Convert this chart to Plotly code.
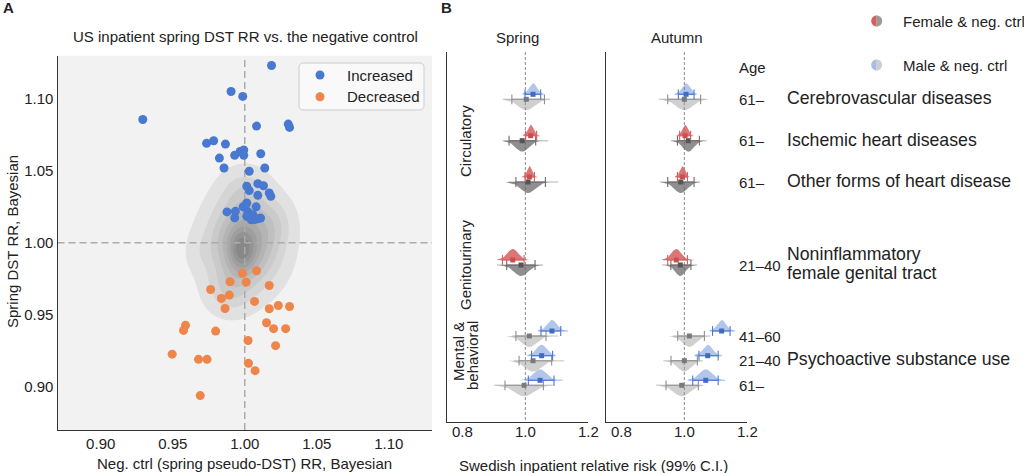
import numpy as np
import plotly.graph_objects as go

W, H = 1024, 473
FONT = "Liberation Sans, Arial, Helvetica, sans-serif"
TXT = "#222222"


def px(x):
    return x / W


def py(y):
    return 1 - y / H


# ---------------- Panel A data ----------------
inc_x = [1.0186, 0.9905, 0.9986, 0.9292, 1.0302, 1.0311, 1.0082, 0.9735, 0.9784, 0.9866,
         0.9968, 0.9993, 0.9930, 0.9993, 1.0111, 0.9824, 0.9856, 1.0031, 1.0139, 1.0014,
         1.0031, 1.0091, 1.0130, 1.0091, 1.0170, 1.0181, 1.0014, 0.9989, 1.0079, 0.9877,
         0.9935, 1.0021, 0.9930, 1.0014, 1.0056, 1.0093, 1.0070, 1.0035, 1.0045, 1.0110]
inc_y = [1.1232, 1.1051, 1.1017, 1.0857, 1.0825, 1.0802, 1.0811, 1.0691, 1.0709, 1.0686,
         1.0635, 1.0645, 1.0608, 1.0608, 1.0619, 1.0589, 1.0520, 1.0497, 1.0520, 1.0393,
         1.0363, 1.0411, 1.0397, 1.0330, 1.0347, 1.0323, 1.0277, 1.0250, 1.0250, 1.0215,
         1.0219, 1.0217, 1.0173, 1.0184, 1.0196, 1.0168, 1.0162, 1.0180, 1.0160, 1.0172]
dec_x = [0.9984, 1.0082, 0.9898, 1.0010, 1.0170, 0.9763, 0.9838, 0.9893, 1.0068, 0.9863,
         1.0170, 1.0233, 1.0311, 0.9589, 0.9575, 0.9798, 1.0151, 1.0200, 1.0284, 1.0023,
         1.0214, 0.9496, 0.9679, 0.9738, 1.0026, 1.0072, 0.9691]
dec_y = [0.9789, 0.9806, 0.9730, 0.9727, 0.9704, 0.9676, 0.9614, 0.9637, 0.9593, 0.9544,
         0.9542, 0.9565, 0.9558, 0.9427, 0.9392, 0.9387, 0.9445, 0.9404, 0.9404, 0.9322,
         0.9286, 0.9227, 0.9191, 0.9191, 0.9163, 0.9112, 0.8939]

# density of the negative-control cloud, approximated by a few Gaussian components
KDE_CX = [1.000, 0.989, 1.000, 1.021, 0.998, 0.968]
KDE_CY = [1.000, 0.966, 1.036, 1.015, 0.994, 0.993]
KDE_SX = [0.0160, 0.0110, 0.0110, 0.0090, 0.0060, 0.0070]
KDE_SY = [0.0200, 0.0110, 0.0110, 0.0110, 0.0100, 0.0100]
KDE_W = [1.00, 0.25, 0.22, 0.15, 0.45, 0.08]

A_TICKS = [0.90, 0.95, 1.00, 1.05, 1.10]

# ---------------- Panel B data ----------------
ROW_AGE = ["61–", "61–", "61–", "21–40", "41–60", "21–40", "61–"]
ROW_SEX = ["Male", "Female", "Female", "Female", "Male", "Male", "Male"]

spring_est = [1.0246, 1.017, 1.013, 0.960, 1.085, 1.052, 1.047]
spring_lo = [0.999, 1.001, 0.999, 0.927, 1.050, 1.020, 1.0096]
spring_hi = [1.049, 1.036, 1.029, 0.996, 1.113, 1.087, 1.0916]
spring_lo2 = [0.9936, 0.9936, 0.988, 0.919, 1.041, 1.010, 0.999]
spring_hi2 = [1.0575, 1.047, 1.038, 1.0045, 1.137, 1.095, 1.119]

spring_ctrl_est = [1.003, 0.990, 1.0086, 0.9863, 1.0128, 1.0246, 0.996]
spring_ctrl_lo = [0.957, 0.948, 0.970, 0.9406, 0.970, 0.980, 0.935]
spring_ctrl_hi = [1.061, 1.033, 1.064, 1.031, 1.066, 1.084, 1.0575]
spring_ctrl_lo2 = [0.930, 0.930, 0.946, 0.909, 0.957, 0.964, 0.900]
spring_ctrl_hi2 = [1.079, 1.073, 1.105, 1.057, 1.105, 1.124, 1.095]

autumn_est = [1.0055, 1.0023, 0.9936, 0.9745, 1.119, 1.0746, 1.0683]
autumn_lo = [0.9808, 0.985, 0.978, 0.947, 1.090, 1.0467, 1.0268]
autumn_hi = [1.031, 1.020, 1.010, 1.010, 1.146, 1.108, 1.108]
autumn_lo2 = [0.970, 0.9755, 0.970, 0.933, 1.082, 1.034, 1.0128]
autumn_hi2 = [1.039, 1.029, 1.0135, 1.029, 1.162, 1.119, 1.130]

autumn_ctrl_est = [1.000, 1.0127, 0.9885, 0.987, 1.016, 1.000, 0.9917]
autumn_ctrl_lo = [0.947, 0.978, 0.947, 0.957, 0.979, 0.9575, 0.9416]
autumn_ctrl_hi = [1.052, 1.048, 1.031, 1.021, 1.064, 1.0415, 1.0447]
autumn_ctrl_lo2 = [0.918, 0.957, 0.922, 0.928, 0.963, 0.933, 0.9097]
autumn_ctrl_hi2 = [1.071, 1.071, 1.050, 1.041, 1.083, 1.0575, 1.0575]

B_TICKS = [0.8, 1.0, 1.2]

# ---------------- layout constants (pixel rows of panel B) ----------------
ROW_Y = [99.3, 140.7, 182.0, 265.0, 336.0, 360.7, 385.3]
PAIR_OFFSET = 5.0
RIDGE_H = 11.0

STYLE = {
    "Male": dict(fill="rgba(72,120,208,0.42)", line="#4878d0", light="rgba(72,120,208,0.35)",
                 point="#3f6cc0"),
    "Female": dict(fill="rgba(214,95,95,0.85)", line="#d65f5f", light="rgba(214,95,95,0.35)",
                   point="#c95050"),
    "CtrlMale": dict(fill="rgba(150,150,150,0.45)", line="#8f8f8f", light="rgba(140,140,140,0.35)",
                     point="#7a7a7a"),
    "CtrlFemale": dict(fill="rgba(100,100,100,0.72)", line="#6a6a6a", light="rgba(110,110,110,0.35)",
                       point="#555555"),
}

fig = go.Figure()

# ---------------- Panel A ----------------
gx = np.linspace(0.87, 1.13, 261)
gy = np.linspace(0.87, 1.13, 261)
XX, YY = np.meshgrid(gx, gy)
Z = np.zeros_like(XX)
for cx, cy, sx, sy, w in zip(KDE_CX, KDE_CY, KDE_SX, KDE_SY, KDE_W):
    Z += w * np.exp(-0.5 * (((XX - cx) / sx) ** 2 + ((YY - cy) / sy) ** 2))
peak = Z.max()
step = 0.10556 * peak
nlev = 9
band_grey = np.linspace(225, 136, nlev)
cscale = [[0.0, "rgb(242,242,242)"]]
for k in range(1, nlev + 1):
    g = int(band_grey[k - 1])
    cscale.append([k / nlev, f"rgb({g},{g},{g})"])

fig.add_trace(go.Contour(
    x=gx, y=gy, z=Z, xaxis="x", yaxis="y",
    contours=dict(start=0.05 * peak, end=0.05 * peak + (nlev - 1) * step, size=step,
                  coloring="fill", showlines=False),
    colorscale=cscale, showscale=False, line=dict(width=0, smoothing=1.3), hoverinfo="skip",
    showlegend=False,
))

fig.add_trace(go.Scatter(x=[1, 1], y=[0.87, 1.13], mode="lines", xaxis="x", yaxis="y",
                         line=dict(color="#ababab", width=1.5, dash="7px,4px"),
                         showlegend=False, hoverinfo="skip"))
fig.add_trace(go.Scatter(x=[0.87, 1.13], y=[1, 1], mode="lines", xaxis="x", yaxis="y",
                         line=dict(color="#ababab", width=1.5, dash="7px,4px"),
                         showlegend=False, hoverinfo="skip"))

INC_COLOR = "#4878d0"
DEC_COLOR = "#ee854a"
fig.add_trace(go.Scatter(x=inc_x, y=inc_y, mode="markers", name="Increased", xaxis="x", yaxis="y",
                         marker=dict(color=INC_COLOR, size=9, line=dict(width=0)),
                         showlegend=False))
fig.add_trace(go.Scatter(x=dec_x, y=dec_y, mode="markers", name="Decreased", xaxis="x", yaxis="y",
                         marker=dict(color=DEC_COLOR, size=9, line=dict(width=0)),
                         showlegend=False))


# ---------------- Panel B ----------------
def add_element(xa, ya, est, lo, hi, lo2, hi2, base, up, st):
    sd = (hi - lo) / (2 * 1.96)
    xs = np.linspace(est - 3.0 * sd, est + 3.0 * sd, 70)
    sign = 1 if up else -1
    ys = base - sign * RIDGE_H * np.exp(-0.5 * ((xs - est) / sd) ** 2)
    rx = np.concatenate([[xs[0]], xs, [xs[-1]]])
    ry = np.concatenate([[base], ys, [base]])
    fig.add_trace(go.Scatter(x=rx, y=ry, mode="lines", fill="toself", fillcolor=st["fill"],
                             line=dict(width=0), xaxis=xa, yaxis=ya, showlegend=False,
                             hoverinfo="skip"))
    fig.add_trace(go.Scatter(x=[lo2, hi2], y=[base, base], mode="lines",
                             line=dict(color=st["light"], width=1.6), xaxis=xa, yaxis=ya,
                             showlegend=False, hoverinfo="skip"))
    fig.add_trace(go.Scatter(x=[lo, hi], y=[base, base], mode="lines+markers",
                             line=dict(color=st["line"], width=1.1),
                             marker=dict(symbol="line-ns", size=7,
                                         line=dict(color=st["line"], width=1.1)),
                             xaxis=xa, yaxis=ya, showlegend=False, hoverinfo="skip"))
    fig.add_trace(go.Scatter(x=[est], y=[base], mode="markers",
                             marker=dict(symbol="square", size=5, color=st["point"]),
                             xaxis=xa, yaxis=ya, showlegend=False, hoverinfo="skip"))


panels = [
    ("x2", "y2", spring_est, spring_lo, spring_hi, spring_lo2, spring_hi2,
     spring_ctrl_est, spring_ctrl_lo, spring_ctrl_hi, spring_ctrl_lo2, spring_ctrl_hi2),
    ("x3", "y3", autumn_est, autumn_lo, autumn_hi, autumn_lo2, autumn_hi2,
     autumn_ctrl_est, autumn_ctrl_lo, autumn_ctrl_hi, autumn_ctrl_lo2, autumn_ctrl_hi2),
]
for (xa, ya, e, l, h, l2, h2, ce, cl, ch, cl2, ch2) in panels:
    for i, sex in enumerate(ROW_SEX):
        base = ROW_Y[i]
        ctrl_st = STYLE["Ctrl" + sex]
        add_element(xa, ya, ce[i], cl[i], ch[i], cl2[i], ch2[i], base, False, ctrl_st)
        add_element(xa, ya, e[i], l[i], h[i], l2[i], h2[i], base - PAIR_OFFSET, True, STYLE[sex])

# ---------------- axes ----------------
axis_common = dict(showgrid=False, zeroline=False, showline=True, linecolor="#333333",
                   linewidth=1.25, tickfont=dict(size=15, color=TXT, family=FONT))
fig.update_layout(
    width=W, height=H, margin=dict(l=0, r=0, t=0, b=0),
    paper_bgcolor="white", plot_bgcolor="white",
    font=dict(family=FONT, size=15, color=TXT),
    xaxis=dict(domain=[px(57.5), px(432)], range=[0.87, 1.13], anchor="y",
               tickvals=A_TICKS, tickformat=".2f", ticks="", **axis_common),
    yaxis=dict(domain=[py(430), py(55.7)], range=[0.87, 1.13], anchor="x",
               tickvals=A_TICKS, tickformat=".2f", ticks="", **axis_common),
    xaxis2=dict(domain=[px(447), px(588)], range=[0.75, 1.2], anchor="y2",
                tickvals=B_TICKS, showticklabels=False, ticks="", **axis_common),
    yaxis2=dict(domain=[py(422), py(52)], range=[422, 52], anchor="x2",
                showticklabels=False, ticks="", **axis_common),
    xaxis3=dict(domain=[px(606), px(747)], range=[0.75, 1.2], anchor="y3",
                tickvals=B_TICKS, showticklabels=False, ticks="", **axis_common),
    yaxis3=dict(domain=[py(422), py(52)], range=[422, 52], anchor="x3",
                showticklabels=False, ticks="", **axis_common),
    showlegend=False,
)

shapes = [
    dict(type="rect", xref="x domain", yref="y domain", x0=0, x1=1, y0=0, y1=1,
         fillcolor="#f2f2f2", line=dict(width=0), layer="below"),
]
for xa in ["x2", "x3"]:
    ya = "y2" if xa == "x2" else "y3"
    shapes.append(dict(type="line", xref=xa, yref=ya, x0=1.0, x1=1.0, y0=52, y1=422,
                       line=dict(color="#8a8a8a", width=1, dash="3px,2px"), layer="below"))


def half_circle(cx, cy, r, left, color):
    k = 0.5523 * r
    s = -1 if left else 1
    path = (f"M 0,{r} C {s * k},{r} {s * r},{k} {s * r},0 "
            f"C {s * r},{-k} {s * k},{-r} 0,{-r} Z")
    return dict(type="path", xref="paper", yref="paper", xsizemode="pixel", ysizemode="pixel",
                xanchor=px(cx), yanchor=py(cy), path=path, fillcolor=color,
                line=dict(width=0), layer="above")


def rounded_box(cx, cy, w, h, r, fill, border):
    a, b = w / 2, h / 2
    k = 0.5523 * r
    path = (f"M {-a + r},{-b} L {a - r},{-b} C {a - r + k},{-b} {a},{-b + r - k} {a},{-b + r} "
            f"L {a},{b - r} C {a},{b - r + k} {a - r + k},{b} {a - r},{b} "
            f"L {-a + r},{b} C {-a + r - k},{b} {-a},{b - r + k} {-a},{b - r} "
            f"L {-a},{-b + r} C {-a},{-b + r - k} {-a + r - k},{-b} {-a + r},{-b} Z")
    return dict(type="path", xref="paper", yref="paper", xsizemode="pixel", ysizemode="pixel",
                xanchor=px(cx), yanchor=py(cy), path=path, fillcolor=fill,
                line=dict(color=border, width=1), layer="above")


def dot(cx, cy, r, color):
    return dict(type="circle", xref="paper", yref="paper", xsizemode="pixel", ysizemode="pixel",
                xanchor=px(cx), yanchor=py(cy), x0=-r, x1=r, y0=-r, y1=r,
                fillcolor=color, line=dict(width=0), layer="above")


shapes += [
    # legend of panel A
    rounded_box(361.5, 86.5, 125, 47, 4, "rgba(250,250,250,0.9)", "#cccccc"),
    dot(320, 75, 4.5, INC_COLOR),
    dot(320, 96.7, 4.5, DEC_COLOR),
    # legend of panel B
    half_circle(876.7, 21, 5.5, True, "#d65f5f"),
    half_circle(876.7, 21, 5.5, False, "#9a9a9a"),
    half_circle(876.7, 65, 5.5, True, "#a9bce2"),
    half_circle(876.7, 65, 5.5, False, "#cfcfcf"),
]
fig.update_layout(shapes=shapes)


def ann(text, x, y, size=15, xanchor="center", angle=0, bold=False, xref="paper"):
    t = f"<b>{text}</b>" if bold else text
    return dict(text=t, x=(px(x) if xref == "paper" else x), y=py(y), xref=xref, yref="paper",
                xanchor=xanchor, yanchor="middle", showarrow=False, textangle=angle,
                font=dict(size=size, color=TXT, family=FONT))


annotations = [
    ann("A", 8, 8, size=15, bold=True),
    ann("B", 446, 8, size=15, bold=True),
    ann("US inpatient spring DST RR vs. the negative control", 245, 36.5),
    ann("Neg. ctrl (spring pseudo-DST) RR, Bayesian", 244.5, 463.5),
    ann("Spring DST RR, Bayesian", 12, 242, angle=-90),
    ann("Increased", 345, 75, xanchor="left"),
    ann("Decreased", 345, 96.7, xanchor="left"),
    ann("Spring", 517, 37),
    ann("Autumn", 677, 37),
    ann("Swedish inpatient relative risk (99% C.I.)", 593, 465),
    ann("Circulatory", 465, 141, angle=-90),
    ann("Genitourinary", 465, 265, angle=-90),
    ann("Mental &", 458, 352, angle=-90),
    ann("behavioral", 472, 356, angle=-90),
    ann("Age", 737, 67, xanchor="left"),
    ann("Female & neg. ctrl", 901, 21, xanchor="left"),
    ann("Male & neg. ctrl", 901, 65, xanchor="left"),
]
# tick labels of panel B, placed on the data scale of each axis
for xa in ["x2", "x3"]:
    for t in B_TICKS:
        annotations.append(ann(f"{t:.1f}", t, 431.7, xref=xa))

for age, y in zip(ROW_AGE, ROW_Y):
    annotations.append(ann(age, 737, y, xanchor="left"))

DISEASE_TEXT = ["Cerebrovascular diseases", "Ischemic heart diseases", "Other forms of heart disease",
                "Noninflammatory", "female genital tract", "Psychoactive substance use"]
DISEASE_Y = [98.3, 140, 180.7, 254.3, 273.3, 359]
for t, y in zip(DISEASE_TEXT, DISEASE_Y):
    annotations.append(ann(t, 785, y, size=17.7, xanchor="left"))

fig.update_layout(annotations=annotations)

fig.write_html(
    "out.html",
    config={"displayModeBar": False},
    post_script=("document.body.style.margin='0px';document.body.style.overflow='hidden';"
                 "document.documentElement.style.overflow='hidden';"),
)
